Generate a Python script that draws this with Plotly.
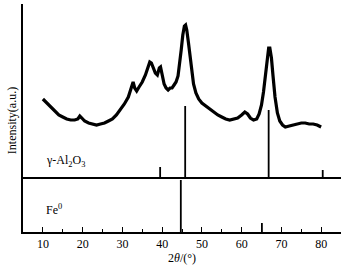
import plotly.graph_objects as go
from plotly.subplots import make_subplots

# XRD pattern (2theta, intensity a.u.)
two_theta = [10.0, 10.5, 11, 12, 13, 14, 15, 16, 17, 18, 18.8, 19.3, 19.8, 20.5, 21.5, 22.5, 23.5, 24.5,
             25.5, 26.5, 27.5, 28.5, 29.5, 30.5, 31.5, 32.3, 32.7, 33.1, 33.6, 34.2, 35, 35.8, 36.4, 36.9,
             37.3, 37.8, 38.3, 38.8, 39.3, 39.6, 40.0, 40.5, 41.0, 41.5, 42.0, 42.5, 43.0, 43.5, 44.0, 44.4,
             44.8, 45.2, 45.6, 45.9, 46.2, 46.6, 47.0, 47.4, 47.9, 48.5, 49.2, 50, 51, 52, 53, 54, 55, 56,
             57, 58, 59, 60, 60.8, 61.5, 62.2, 63, 63.8, 64.4, 65.0, 65.5, 66.0, 66.4, 66.8, 67.1, 67.5,
             67.9, 68.4, 69.0, 69.6, 70.3, 71, 72, 73, 74, 75, 76, 77, 78, 79, 80]
intensity = [78, 76, 73, 69, 65, 62, 60, 58, 57, 57, 58, 61, 59, 56, 54, 53, 52, 53,
             54, 56, 58, 62, 67, 73, 80, 89, 95, 89, 86, 90, 95, 102, 109, 115,
             114, 109, 104, 102, 109, 110, 103, 93, 89, 87, 89, 89, 92, 95, 101, 112,
             127, 142, 151, 152, 147, 135, 120, 105, 93, 84, 78, 74, 71, 68, 65, 62, 60, 58,
             57, 58, 59, 62, 65, 63, 59, 57, 58, 63, 72, 85, 102, 119, 129, 129, 119,
             101, 80, 64, 56, 52, 50, 51, 52, 53, 54, 54, 53, 53, 52, 50]

# Reference patterns
al2o3_pos = [39.5, 45.8, 66.8, 80.4]
al2o3_int = [10, 71, 67, 7]
fe_pos = [44.7, 65.1]
fe_int = [52, 9]

x_ticks = [10, 20, 30, 40, 50, 60, 70, 80, 85]
x_tick_text = ["10", "20", "30", "40", "50", "60", "70", "80", ""]
x_minor = [15, 25, 35, 45, 55, 65, 75]

FONT = "Liberation Serif"

fig = make_subplots(rows=2, cols=1, shared_xaxes=True, vertical_spacing=0,
                    row_heights=[173, 55])

fig.add_trace(go.Scatter(x=two_theta, y=intensity, mode="lines",
                         line=dict(color="black", width=3.2), showlegend=False), row=1, col=1)


def sticks(pos, vals):
    xs, ys = [], []
    for p, v in zip(pos, vals):
        xs += [p, p, None]
        ys += [0, v, None]
    return xs, ys


ax, ay = sticks(al2o3_pos, al2o3_int)
fig.add_trace(go.Scatter(x=ax, y=ay, mode="lines", line=dict(color="black", width=1.8),
                         showlegend=False), row=1, col=1)
fx, fy = sticks(fe_pos, fe_int)
fig.add_trace(go.Scatter(x=fx, y=fy, mode="lines", line=dict(color="black", width=1.8),
                         showlegend=False), row=2, col=1)

fig.update_xaxes(range=[5, 85], showgrid=False, zeroline=False, showline=True,
                 linecolor="black", linewidth=2)
fig.update_xaxes(row=1, col=1, ticks="", showticklabels=False)
fig.update_xaxes(row=2, col=1, tickvals=x_ticks, ticktext=x_tick_text, ticks="inside",
                 ticklen=5, tickwidth=1.3, tickcolor="black",
                 minor=dict(tickvals=x_minor, ticks="inside", ticklen=3,
                            tickwidth=1.3, tickcolor="black"),
                 tickfont=dict(family=FONT, size=12, color="black"),
                 title=dict(text="2<i>θ</i>/(°)", font=dict(family=FONT, size=12, color="black"),
                            standoff=2))

fig.update_yaxes(showgrid=False, zeroline=False, showline=True, linecolor="black", linewidth=2,
                 showticklabels=False)
fig.update_yaxes(row=1, col=1, range=[0, 173], tickvals=[173], ticks="inside", ticklen=9,
                 tickwidth=2, tickcolor="black")
fig.update_yaxes(row=2, col=1, range=[0, 55], ticks="")

fig.add_annotation(xref="paper", yref="paper", x=0.065, y=0.31, xanchor="left", yanchor="middle",
                   text="γ-Al<sub>2</sub>O<sub>3</sub>", showarrow=False,
                   font=dict(family=FONT, size=12, color="black"))
fig.add_annotation(xref="paper", yref="paper", x=0.065, y=0.10, xanchor="left", yanchor="middle",
                   text="Fe<sup>0</sup>", showarrow=False,
                   font=dict(family=FONT, size=12, color="black"))
fig.add_annotation(xref="paper", yref="paper", x=-0.035, y=0.49, xanchor="center", yanchor="middle",
                   text="Intensity(a.u.)", textangle=-90, showarrow=False,
                   font=dict(family=FONT, size=12, color="black"))

fig.update_layout(width=347, height=266, margin=dict(l=23, r=6, t=4, b=34),
                  plot_bgcolor="white", paper_bgcolor="white")

fig.write_html("out.html", config={"displayModeBar": False},
               post_script="document.body.style.margin='0';")
